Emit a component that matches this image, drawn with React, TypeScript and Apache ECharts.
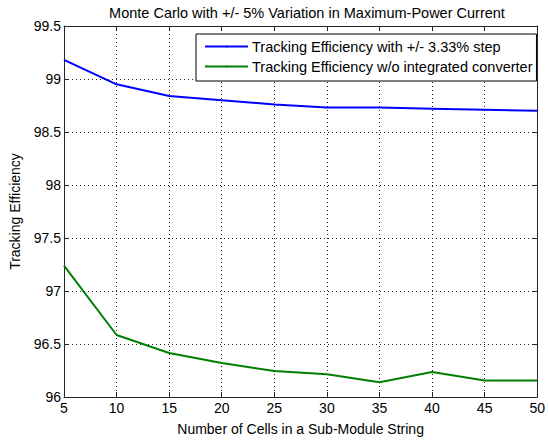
import React, { useEffect, useRef } from "react";
import * as echarts from "echarts";

// Number of cells in a sub-module string
const cells = [5, 10, 15, 20, 25, 30, 35, 40, 45, 50];
// Tracking efficiency (%) with the +/- 3.33% step converter
const withStep = [99.18, 98.95, 98.84, 98.8, 98.76, 98.73, 98.73, 98.72, 98.71, 98.7];
// Tracking efficiency (%) without the integrated converter
const withoutConverter = [97.24, 96.585, 96.415, 96.32, 96.245, 96.215, 96.14, 96.235, 96.155, 96.155];

const seriesNames = [
  "Tracking Efficiency with +/- 3.33% step",
  "Tracking Efficiency w/o integrated converter",
];

const FONT = "'Liberation Sans', Arial, Helvetica, sans-serif";
const AXIS_COLOR = "#262626";
const FS = 14;

export default function App() {
  const ref = useRef<HTMLDivElement>(null);

  useEffect(() => {
    document.body.style.margin = "0";
    if (!ref.current) return;
    const chart = echarts.init(ref.current, undefined, { renderer: "svg" });

    const tickStyle = {
      show: true,
      inside: true,
      length: 5,
      lineStyle: { color: AXIS_COLOR, width: 1 },
    };
    const axisLine = { show: true, lineStyle: { color: AXIS_COLOR, width: 1 } };
    const gridLines = {
      show: true,
      lineStyle: { color: "#222", width: 1, type: [1, 3] as number[] },
    };
    const labelStyle = { fontFamily: FONT, fontSize: FS, color: "#000" };

    chart.setOption({
      animation: false,
      backgroundColor: "#ffffff",
      textStyle: { fontFamily: FONT },
      title: {
        text: "Monte Carlo with +/- 5% Variation in Maximum-Power Current",
        left: 302,
        textAlign: "center",
        top: 0,
        textStyle: { ...labelStyle, fontSize: 14.5, fontWeight: "normal" },
      },
      grid: { left: 63, right: 8, top: 26, bottom: 46, containLabel: false },
      legend: {
        orient: "vertical",
        left: 196,
        top: 34,
        data: seriesNames,
        itemWidth: 43,
        itemHeight: 2,
        itemGap: 5,
        padding: [5, 4, 7, 8],
        borderColor: "#000",
        borderWidth: 1,
        backgroundColor: "#fff",
        textStyle: { ...labelStyle, fontSize: 14.5, padding: [0, 0, 0, -1] },
      },
      xAxis: [
        {
          type: "value",
          min: 5,
          max: 50,
          interval: 5,
          name: "Number of Cells in a Sub-Module String",
          nameLocation: "middle",
          nameGap: 25,
          nameTextStyle: labelStyle,
          axisLine,
          axisTick: tickStyle,
          axisLabel: { ...labelStyle, margin: 4 },
          splitLine: gridLines,
        },
        {
          type: "value",
          position: "top",
          min: 5,
          max: 50,
          interval: 5,
          axisLine,
          axisTick: tickStyle,
          axisLabel: { show: false },
          splitLine: { show: false },
        },
      ],
      yAxis: [
        {
          type: "value",
          min: 96,
          max: 99.5,
          interval: 0.5,
          name: "Tracking Efficiency",
          nameLocation: "middle",
          nameGap: 42,
          nameTextStyle: labelStyle,
          axisLine,
          axisTick: tickStyle,
          axisLabel: { ...labelStyle, margin: 3 },
          splitLine: gridLines,
        },
        {
          type: "value",
          position: "right",
          min: 96,
          max: 99.5,
          interval: 0.5,
          axisLine,
          axisTick: tickStyle,
          axisLabel: { show: false },
          splitLine: { show: false },
        },
      ],
      series: [
        {
          name: seriesNames[0],
          type: "line",
          data: cells.map((c, i) => [c, withStep[i]]),
          symbol: "none",
          lineStyle: { color: "#0000ff", width: 2 },
          itemStyle: { color: "#0000ff" },
          z: 3,
        },
        {
          name: seriesNames[1],
          type: "line",
          data: cells.map((c, i) => [c, withoutConverter[i]]),
          symbol: "none",
          lineStyle: { color: "#008000", width: 2 },
          itemStyle: { color: "#008000" },
          z: 3,
        },
      ],
    });

    return () => chart.dispose();
  }, []);

  return (
    <div
      ref={ref}
      style={{ position: "absolute", left: 0, top: 0, width: 548, height: 443 }}
    />
  );
}
